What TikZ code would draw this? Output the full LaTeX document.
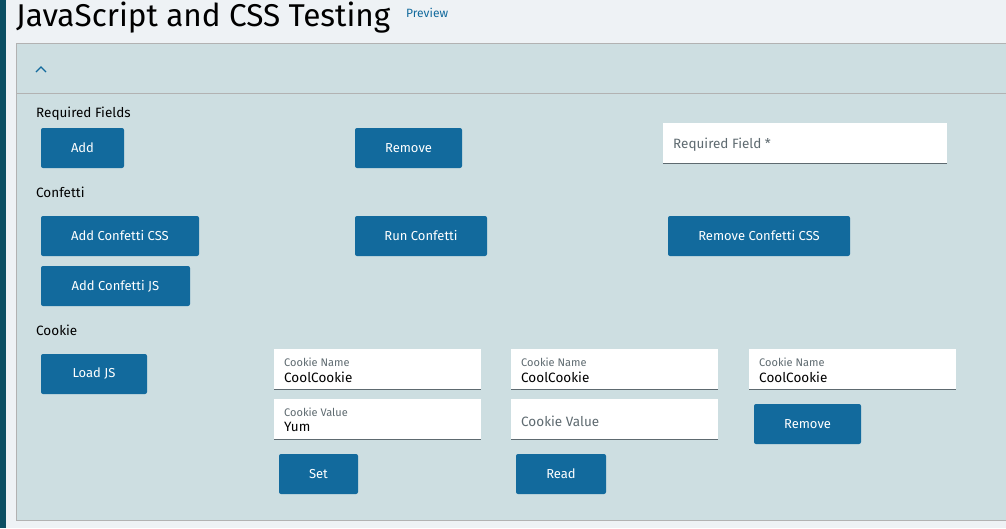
\documentclass[tikz,border=0pt]{standalone}
\usepackage{fontspec}
\setmainfont{Fira Sans}
\definecolor{pagebg}{HTML}{EEF2F5}
\definecolor{panelbg}{HTML}{CDDEE1}
\definecolor{btnblue}{HTML}{126A9D}
\definecolor{darkbar}{HTML}{0B4F63}
\definecolor{hintgrey}{HTML}{5E6A70}
\begin{document}
\begin{tikzpicture}[x=1pt,y=-1pt,
 btn/.style ={fill=btnblue,text=white,rounded corners=2pt,font=\fontsize{13}{15}\selectfont,inner sep=0pt},
 field/.style ={fill=white,inner sep=0pt,anchor=north west},
 label/.style ={anchor=west,inner sep=0pt,font=\fontsize{13.5}{16}\selectfont},
 hint/.style ={anchor=west,inner sep=0pt,text=hintgrey}
 ]
%page and panel
\fill[pagebg] (0,0) rectangle (1006,528);
\useasboundingbox (0,0) rectangle (1006,528);
\fill[darkbar] (0,0) rectangle (6,528);
\draw[fill=panelbg,draw=gray!60] (16,43) rectangle (1006,520);
\draw[gray!60] (16,93) -- (1006,93);
\draw[btnblue,line width=1.2pt] (36,72) -- (41,67) -- (46,72);
%title
\node[anchor=west,inner sep=0pt,font=\fontsize{31.5}{36}\selectfont] (title) at (16,18) {JavaScript and CSS Testing};
\node[anchor=west,inner sep=0pt,text=btnblue,font=\fontsize{12}{14}\selectfont] (preview) at (406,13) {Preview};
%required fields
\node[label] (reqlbl) at (36,114) {Required Fields};
\node[btn,minimum width=83pt,minimum height=40pt] (add) at (82.5,148) {Add};
\node[btn,minimum width=107pt,minimum height=40pt] (remove) at (408.5,148) {Remove};
\node[field,minimum width=284pt,minimum height=40pt] (reqfield) at (663,123) {};
\draw[hintgrey] (663,163) -- (947,163);
\node[hint,font=\fontsize{13.5}{16}\selectfont] (reqhint) at (673,145) {Required Field *};
%confetti
\node[label] (conflbl) at (36,192) {Confetti};
\node[btn,minimum width=158pt,minimum height=40pt] (addcss) at (120,236) {Add Confetti CSS};
\node[btn,minimum width=132pt,minimum height=40pt] (runconf) at (421,236) {Run Confetti};
\node[btn,minimum width=182pt,minimum height=40pt] (remcss) at (759,236) {Remove Confetti CSS};
\node[btn,minimum width=149pt,minimum height=40pt] (addjs) at (115.5,286) {Add Confetti JS};
%cookie
\node[label] (cooklbl) at (36,330) {Cookie};
\node[btn,minimum width=106pt,minimum height=40pt] (loadjs) at (94,374) {Load JS};
\foreach \name/\x/\y/\cap/\val in {nameA/274/349/Cookie Name/CoolCookie, valA/274/399/Cookie Value/Yum,
  nameB/511/349/Cookie Name/CoolCookie, nameC/749/349/Cookie Name/CoolCookie}{
  \node[field,minimum width=207pt,minimum height=40pt] (\name) at (\x,\y) {};
  \draw[hintgrey] (\name.south west) -- (\name.south east);
  \node[hint,font=\fontsize{11}{13}\selectfont] at ([xshift=10pt,yshift=-13pt]\name.north west) {\cap};
  \node[anchor=west,inner sep=0pt,font=\fontsize{13.5}{16}\selectfont] at ([xshift=10pt,yshift=-28pt]\name.north west) {\val};
}
\node[field,minimum width=207pt,minimum height=40pt] (valB) at (511,399) {};
\draw[hintgrey] (valB.south west) -- (valB.south east);
\node[hint,font=\fontsize{13.5}{16}\selectfont] (valBhint) at (521,421) {Cookie Value};
\node[btn,minimum width=107pt,minimum height=40pt] (remcookie) at (807.5,424) {Remove};
\node[btn,minimum width=79pt,minimum height=40pt] (set) at (318.5,474) {Set};
\node[btn,minimum width=90pt,minimum height=40pt] (read) at (561,474) {Read};
\end{tikzpicture}
\end{document}
